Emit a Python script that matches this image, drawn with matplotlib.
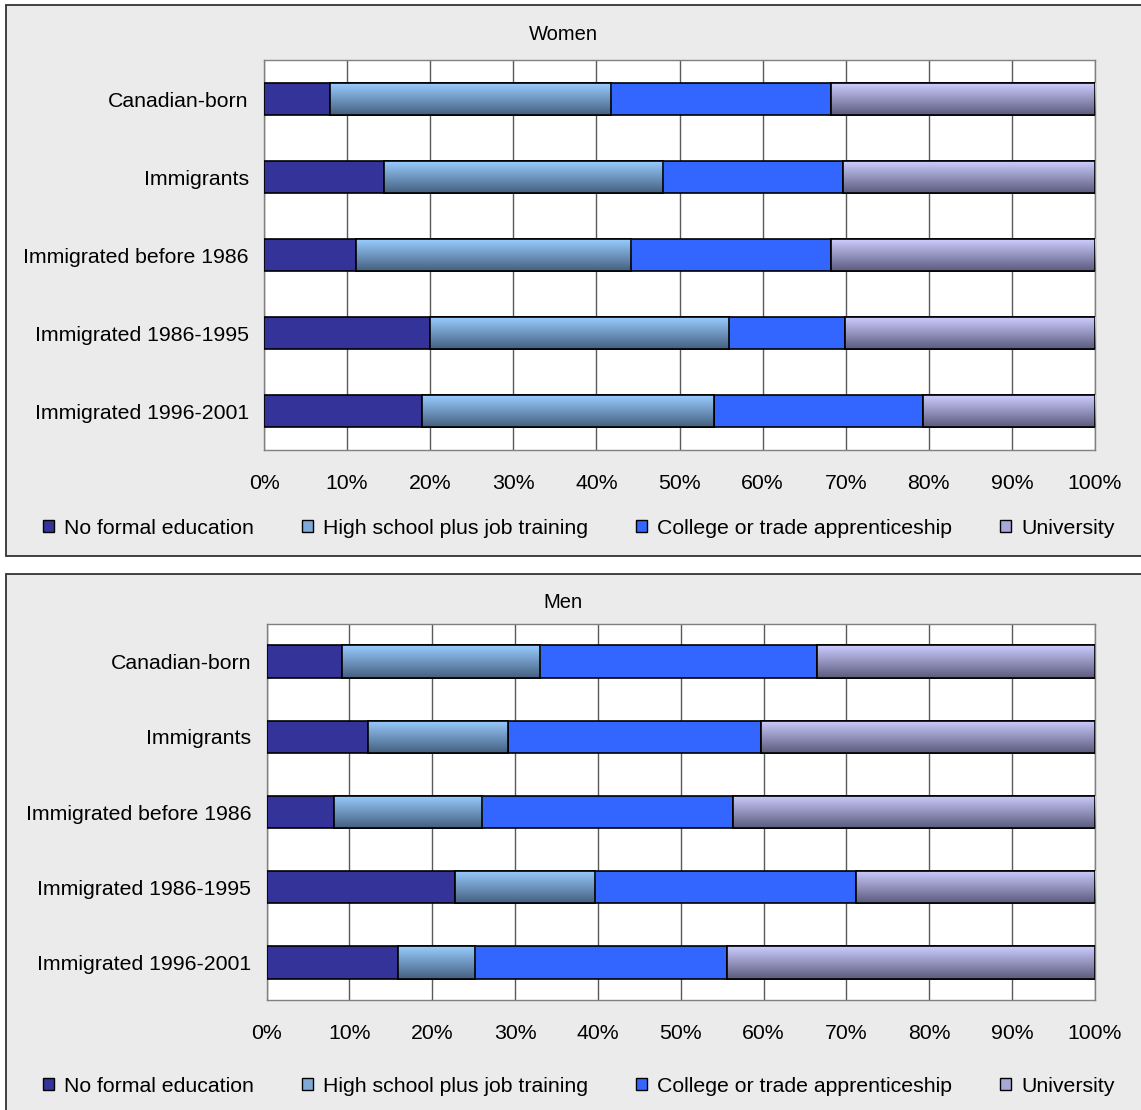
import numpy as np
import matplotlib
matplotlib.use("Agg")
import matplotlib.pyplot as plt
from matplotlib.patches import Rectangle, Patch
from matplotlib.colors import LinearSegmentedColormap

plt.rcParams['font.family'] = ['Liberation Sans', 'DejaVu Sans']

groups = ['Canadian-born', 'Immigrants', 'Immigrated before 1986',
          'Immigrated 1986-1995', 'Immigrated 1996-2001']
series = ['No formal education', 'High school plus job training',
          'College or trade apprenticeship', 'University']

# shares in percent
women_none = [7.9, 14.4, 11.1, 20.0, 19.0]
women_high = [33.9, 33.6, 33.1, 36.0, 35.1]
women_college = [26.4, 21.7, 24.0, 13.9, 25.2]
women_univ = [31.8, 30.3, 31.8, 30.1, 20.7]

men_none = [9.1, 12.3, 8.1, 22.8, 15.9]
men_high = [23.9, 16.8, 17.9, 16.9, 9.3]
men_college = [33.5, 30.6, 30.3, 31.4, 30.4]
men_univ = [33.5, 40.3, 43.7, 28.9, 44.4]

xticks = [0, 10, 20, 30, 40, 50, 60, 70, 80, 90, 100]

solid = ['#333399', None, '#3366FF', None]
grads = [None, ('#99CCFF', '#456080'), None, ('#CCCCFF', '#5C5C7E')]
legend_cols = ['#333399', '#7FAAD8', '#3366FF', '#A8A8D8']

FS = 15.3
W, H = 1141, 1110
fig = plt.figure(figsize=(W / 100, H / 100), dpi=100)
fig.patch.set_facecolor('white')

# panel frames
fig.add_artist(Rectangle((6 / W, 1 - 556 / H), 1.2, 551 / H, transform=fig.transFigure,
                         fc='#EBEBEB', ec='#333333', lw=1.3, zorder=0))
fig.add_artist(Rectangle((6 / W, -0.1), 1.2, 0.1 + 1 - 574 / H, transform=fig.transFigure,
                         fc='#EBEBEB', ec='#333333', lw=1.3, zorder=0))


def panel(rect, title, title_y, data, hgt, legend_y):
    ax = fig.add_axes(rect)
    ax.set_facecolor('white')
    y = np.arange(len(groups))
    left = np.zeros(len(groups))
    for k, vals in enumerate(data):
        vals = np.array(vals)
        fc = solid[k] if solid[k] else grads[k][0]
        bars = ax.barh(y, vals, left=left, height=hgt, color=fc, edgecolor='black',
                       lw=1.2, zorder=3)
        if grads[k]:
            cm = LinearSegmentedColormap.from_list('g%d' % k, list(grads[k]))
            img = np.linspace(0, 1, 64).reshape(-1, 1)
            for b in bars:
                x0, y0 = b.get_x(), b.get_y()
                im = ax.imshow(img, cmap=cm, aspect='auto', zorder=3.5,
                               extent=(x0, x0 + b.get_width(), y0 + hgt, y0),
                               interpolation='bilinear')
                im.set_clip_path(b)
            ax.barh(y, vals, left=left, height=hgt, facecolor='none', edgecolor='black',
                    lw=1.2, zorder=4)
        left = left + vals
    ax.set_xlim(0, 100)
    ax.set_ylim(len(groups) - 0.5, -0.5)
    ax.set_xticks(xticks)
    ax.set_xticklabels(['%d%%' % t for t in xticks])
    ax.set_yticks(y)
    ax.set_yticklabels(groups)
    ax.tick_params(axis='both', length=0, labelsize=FS)
    ax.tick_params(axis='x', pad=17.5)
    ax.tick_params(axis='y', pad=11)
    ax.xaxis.grid(True, color='#5a5a5a', lw=1.0, zorder=1)
    ax.set_axisbelow(True)
    for s in ax.spines.values():
        s.set_color('#808080')
        s.set_linewidth(1.0)
    fig.text(563 / W, title_y, title, ha='center', va='center', fontsize=14.5)
    handles = [Patch(facecolor=c, edgecolor='black', lw=1.0) for c in legend_cols]
    fig.legend(handles, series, loc='center', bbox_to_anchor=(0.507, legend_y), ncol=4,
               frameon=False, fontsize=FS, handlelength=0.55, handleheight=0.55,
               handletextpad=0.45, columnspacing=2.25)
    return ax


panel([264 / W, 1 - 450 / H, 831 / W, 390 / H], 'Women', 1 - 35 / H,
      [women_none, women_high, women_college, women_univ], 0.41, 1 - 528 / H)
panel([266.5 / W, 1 - 1000 / H, 828.5 / W, 376 / H], 'Men', 1 - 603 / H,
      [men_none, men_high, men_college, men_univ], 0.43, 1 - 1086 / H)

plt.savefig('out.png', dpi=100, facecolor=fig.get_facecolor())
